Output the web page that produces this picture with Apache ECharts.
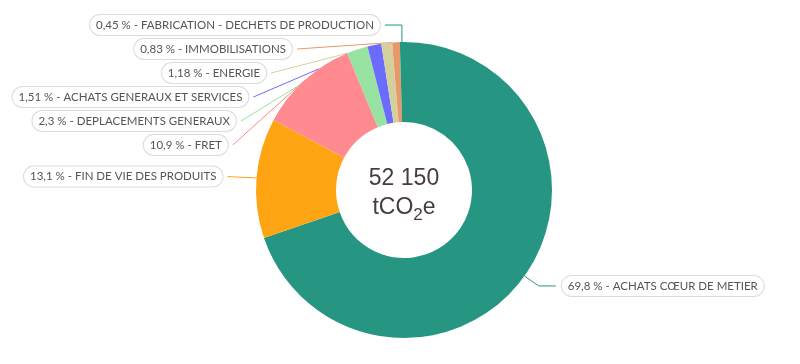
<!DOCTYPE html>
<html>
<head>
<meta charset="utf-8">
<script src="https://cdn.jsdelivr.net/npm/echarts@6/dist/echarts.min.js"></script>
<style>html,body{margin:0;padding:0;background:#fff;}#c{width:800px;height:364px;}</style>
</head>
<body>
<div id="c"></div>
<script>
const categories = ['ACHATS CŒUR DE METIER','FIN DE VIE DES PRODUITS','FRET','DEPLACEMENTS GENERAUX','ACHATS GENERAUX ET SERVICES','ENERGIE','IMMOBILISATIONS','FABRICATION - DECHETS DE PRODUCTION'];
const shares = [69.8, 13.1, 10.9, 2.3, 1.51, 1.18, 0.83, 0.45];
const totalValue = '52 150';
const unitText = ['tCO', '2', 'e'];
const colors = ['#269682','#ffa514','#ff8a8f','#98e2a2','#6b6bff','#d4d09e','#e8996a','#1f9a80'];

const FONT = 'Lato';
const C = [404, 190], R = 148, RI = 68;
const LABEL_R = 165, CONN_R = 177, SPACING = 24, TOP = 25;

// precompute Highcharts-like label layout
const sum = shares.reduce((a, b) => a + b, 0);
let acc = 0;
const info = shares.map((v, i) => {
  const mid = (acc + v / 2) / sum * 2 * Math.PI;
  acc += v;
  const s = Math.sin(mid), c = Math.cos(mid);
  return { i, px: C[0] + R * s, py: C[1] - R * c, left: s < 0, ny: C[1] - LABEL_R * c };
});
function stack(arr) {
  arr.sort((a, b) => a.ny - b.ny);
  let prev = -Infinity;
  arr.forEach(o => { o.y = Math.max(o.ny, prev + SPACING, TOP); prev = o.y; });
}
stack(info.filter(o => o.left));
stack(info.filter(o => !o.left));
function clip(E, P) {
  const dx = P[0] - E[0], dy = P[1] - E[1];
  const fx = E[0] - C[0], fy = E[1] - C[1];
  const a = dx * dx + dy * dy, b = 2 * (fx * dx + fy * dy), cc = fx * fx + fy * fy - R * R;
  const disc = b * b - 4 * a * cc;
  if (disc < 0) return P;
  const t = (-b - Math.sqrt(disc)) / (2 * a);
  if (t < 0 || t > 1) return P;
  return [E[0] + t * dx, E[1] + t * dy];
}
const layouts = [];
info.forEach(o => {
  const dy = o.y - C[1];
  const L = {};
  if (o.left) {
    if (o.y < C[1] - R) {
      const ex = o.px - 17;
      L.pts = [[o.px, o.py], [o.px, o.y], [ex, o.y]];
      L.x = ex - 5;
    } else {
      const ex = C[0] - Math.sqrt(Math.max(0, CONN_R * CONN_R - dy * dy));
      L.pts = [clip([ex, o.y], [o.px, o.py]), [ex, o.y]];
      L.x = ex - 5;
    }
    L.align = 'right';
  } else {
    const ex = C[0] + Math.sqrt(Math.max(0, CONN_R * CONN_R - dy * dy)) + 3;
    L.pts = [[o.px, o.py], [ex - 17, o.y], [ex, o.y]];
    L.x = ex + 6;
    L.align = 'left';
  }
  L.y = o.y;
  layouts[o.i] = L;
});

const chart = echarts.init(document.getElementById('c'), null, { renderer: 'canvas' });
chart.setOption({
  animation: false,
  series: [{
    type: 'pie',
    center: C,
    radius: [RI, R],
    startAngle: 90,
    clockwise: true,
    avoidLabelOverlap: false,
    itemStyle: { borderWidth: 0 },
    emphasis: { disabled: true },
    data: categories.map((n, i) => ({ name: n, value: shares[i], itemStyle: { color: colors[i] } })),
    label: {
      show: true,
      position: 'outside',
      formatter: p => String(shares[p.dataIndex]).replace('.', ',') + ' % - ' + p.name,
      fontFamily: FONT,
      fontSize: 11.5,
      color: '#555',
      backgroundColor: '#fff',
      borderColor: '#dcdcdc',
      borderWidth: 1,
      borderRadius: 10,
      padding: [4, 6, 4, 6]
    },
    labelLine: { show: true, length: 10, length2: 10, lineStyle: { width: 1 } },
    labelLayout: p => {
      const L = layouts[p.dataIndex];
      return { x: L.x, y: L.y, align: L.align, verticalAlign: 'middle', labelLinePoints: L.pts };
    }
  }],
  graphic: [
    { type: 'text', x: C[0], y: 179, style: { text: totalValue, fontFamily: 'Liberation Sans', fontSize: 23, fill: '#483c3c', align: 'center', verticalAlign: 'middle' } },
    { type: 'text', x: C[0], y: 210, style: {
      text: '{a|' + unitText[0] + '}{s|' + unitText[1] + '}{a|' + unitText[2] + '}',
      align: 'center', verticalAlign: 'middle',
      rich: {
        a: { fontFamily: 'Liberation Sans', fontSize: 23, fill: '#483c3c', lineHeight: 28, verticalAlign: 'top' },
        s: { fontFamily: 'Liberation Sans', fontSize: 17, fill: '#483c3c', lineHeight: 16, verticalAlign: 'bottom' }
      }
    } }
  ]
});
</script>
</body>
</html>
